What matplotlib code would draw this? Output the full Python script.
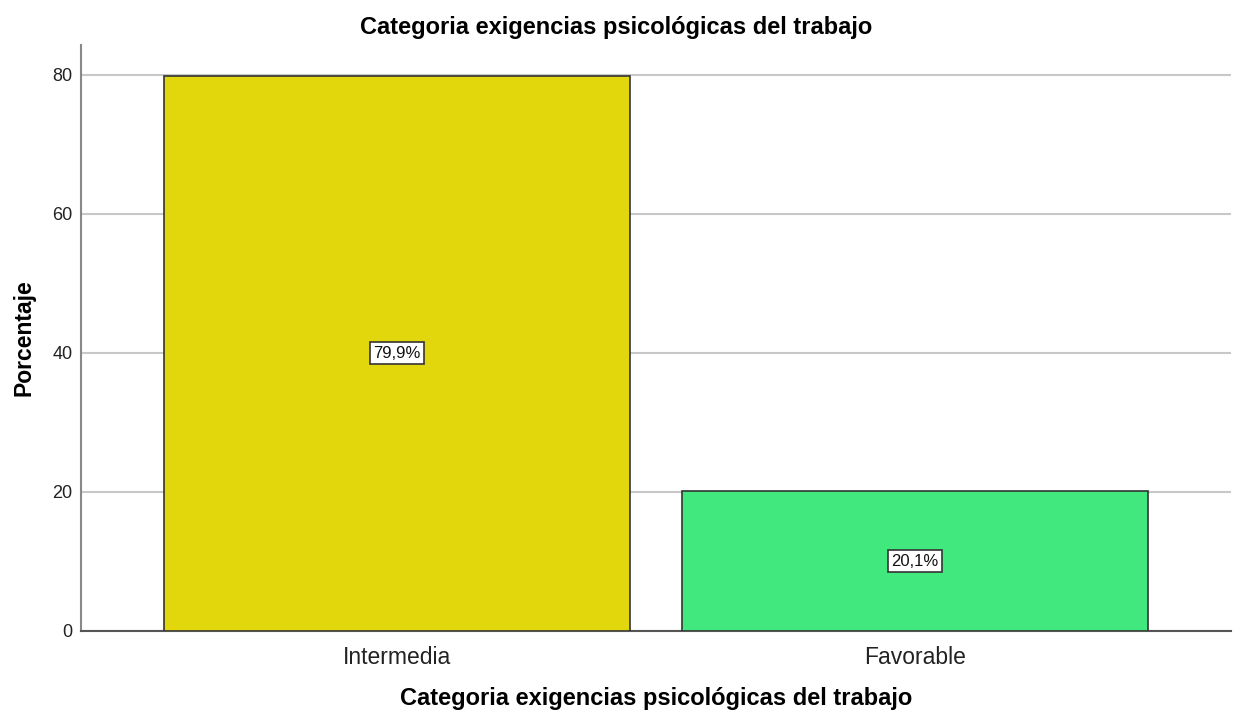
import matplotlib
matplotlib.use("Agg")
import matplotlib.pyplot as plt

categories = ["Intermedia", "Favorable"]
values = [79.9, 20.1]
labels = ["79,9%", "20,1%"]
colors = ["#E1D70C", "#40E87D"]
yticks = [0, 20, 40, 60, 80]

plt.rcParams['font.family'] = ['Liberation Sans', 'DejaVu Sans']

fig = plt.figure(figsize=(12.36, 7.14), dpi=100)
ax = fig.add_axes([0.0655, 0.1163, 0.9305, 0.8207])

x = list(range(len(categories)))
ax.bar(x, values, width=0.899, color=colors, edgecolor="#333333", linewidth=1.2, zorder=3)
for xi, v, lab in zip(x, values, labels):
    ax.text(xi, v / 2, lab, ha="center", va="center", fontsize=12, color="#111111", zorder=4,
            bbox=dict(boxstyle="square,pad=0.2", facecolor="white", edgecolor="#333333", linewidth=1.2))

ax.set_xlim(-0.61, 1.61)
ax.set_ylim(0, 84.3)
ax.set_yticks(yticks)
ax.set_yticklabels([str(t) for t in yticks], fontsize=13, color="#222222")
ax.set_xticks(x)
ax.set_xticklabels(categories, fontsize=16.5, color="#222222")
ax.tick_params(axis="both", length=0)
ax.tick_params(axis="y", pad=6)
ax.tick_params(axis="x", pad=11)
ax.grid(axis="y", color="#C8C8C8", linewidth=1.5, zorder=0)
for s in ["top", "right"]:
    ax.spines[s].set_visible(False)
ax.spines["left"].set_color("#888888")
ax.spines["left"].set_linewidth(1.5)
ax.spines["bottom"].set_color("#555555")
ax.spines["bottom"].set_linewidth(1.5)

ax.set_ylabel("Porcentaje", fontsize=16.5, fontweight="bold", labelpad=12)
ax.set_xlabel("Categoria exigencias psicológicas del trabajo", fontsize=17, fontweight="bold", labelpad=13)
fig.text(0.4985, 0.961, "Categoria exigencias psicológicas del trabajo", ha="center", va="center",
         fontsize=17, fontweight="bold")

fig.savefig("out.png", dpi=100)
